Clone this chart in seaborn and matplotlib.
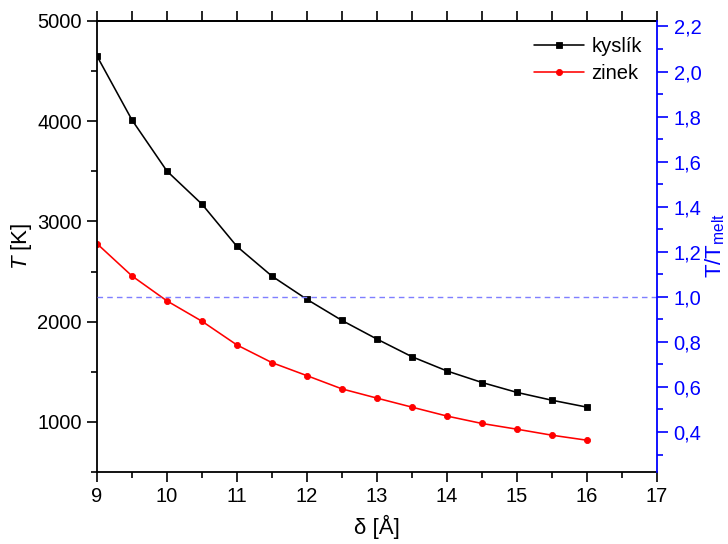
import numpy as np
import pandas as pd
import matplotlib
matplotlib.use("Agg")
import matplotlib.pyplot as plt
from matplotlib.ticker import MultipleLocator, FuncFormatter
import seaborn as sns

# Separation delta [Å] and temperatures [K]
delta = [9.0, 9.5, 10.0, 10.5, 11.0, 11.5, 12.0, 12.5, 13.0, 13.5, 14.0, 14.5, 15.0, 15.5, 16.0]
t_kyslik = [4650, 4012, 3502, 3172, 2750, 2454, 2222, 2012, 1826, 1650, 1508, 1393, 1294, 1216, 1147]
t_zinek = [2778, 2456, 2207, 2004, 1767, 1591, 1461, 1329, 1237, 1147, 1058, 984, 927, 867, 817]
series_names = ["kyslík", "zinek"]
series_colors = ["black", "red"]
series_markers = ["s", "o"]
t_melt = 2248.0

sns.set_theme(style="ticks")
plt.rcParams["font.family"] = ["Liberation Sans", "DejaVu Sans"]
plt.rcParams["mathtext.fontset"] = "custom"
plt.rcParams["mathtext.rm"] = "Liberation Sans"
plt.rcParams["mathtext.it"] = "Liberation Sans:italic"
plt.rcParams["text.color"] = "black"
plt.rcParams["axes.labelcolor"] = "black"
plt.rcParams["xtick.color"] = "black"
plt.rcParams["ytick.color"] = "black"

df = pd.DataFrame({
    "delta": delta * 2,
    "T": t_kyslik + t_zinek,
    "series": [series_names[0]] * len(delta) + [series_names[1]] * len(delta),
})

fig = plt.figure(figsize=(7.28, 5.44), dpi=100)
ax = fig.add_axes([97 / 728, 1 - 472 / 544, 560 / 728, 451 / 544])

sns.lineplot(
    data=df, x="delta", y="T", hue="series", style="series",
    palette=dict(zip(series_names, series_colors)),
    markers=dict(zip(series_names, series_markers)),
    dashes=False, markersize=4.4, linewidth=1.15,
    ax=ax, legend=True,
)
for line in ax.lines:
    line.set_markeredgecolor(line.get_color())
    line.set_markeredgewidth(0.6)

ax.set_xlim(9, 17)
ax.set_ylim(500, 5000)
ax.xaxis.set_major_locator(MultipleLocator(1))
ax.xaxis.set_minor_locator(MultipleLocator(0.5))
ax.yaxis.set_major_locator(MultipleLocator(1000))
ax.yaxis.set_minor_locator(MultipleLocator(500))
ax.yaxis.set_major_formatter(FuncFormatter(lambda v, p: "" if v < 1000 else f"{int(v)}"))

for side in ["left", "bottom", "top"]:
    ax.spines[side].set_linewidth(1.3)
    ax.spines[side].set_color("black")
ax.spines["right"].set_visible(False)

ax.tick_params(axis="both", which="major", direction="out", length=7, width=1.2,
               labelsize=14.5, colors="black", pad=4)
ax.tick_params(axis="both", which="minor", direction="out", length=4, width=1.2)
ax.tick_params(axis="x", top=False, which="both")

# Top axis: ticks only
top = ax.secondary_xaxis("top")
top.xaxis.set_major_locator(MultipleLocator(0.5))
top.tick_params(direction="out", length=7, width=1.2, labeltop=False, colors="black")
top.spines["top"].set_linewidth(1.3)
top.spines["top"].set_color("black")

ax.set_xlabel("δ [Å]", fontsize=16, labelpad=6, color="black")
ax.set_ylabel(r"$T$ [K]", fontsize=16, color="black")
ax.yaxis.set_label_coords(-0.113, 0.5)

leg = ax.legend(loc="upper right", frameon=False, fontsize=14.5, handlelength=2.5,
                handletextpad=0.35, borderaxespad=0.5, labelspacing=0.4,
                bbox_to_anchor=(1.005, 1.005))
for txt in leg.get_texts():
    txt.set_color("black")

# Right axis: reduced temperature T/T_melt
ax2 = ax.twinx()
ax2.set_ylim(500 / t_melt, 5000 / t_melt)
ax2.yaxis.set_major_locator(MultipleLocator(0.2))
ax2.yaxis.set_minor_locator(MultipleLocator(0.1))
ax2.yaxis.set_major_formatter(FuncFormatter(lambda v, p: f"{v:.1f}".replace(".", ",")))
for side in ["left", "bottom", "top"]:
    ax2.spines[side].set_visible(False)
ax2.spines["right"].set_color("blue")
ax2.spines["right"].set_linewidth(1.3)
ax2.tick_params(axis="y", which="major", direction="out", length=8, width=1.2,
                colors="blue", labelsize=14.5, labelcolor="blue", pad=4)
ax2.tick_params(axis="y", which="minor", direction="out", length=4, width=1.2, colors="blue")
ax2.axhline(1.0, color="#7f7fff", linestyle=(0, (4, 3)), linewidth=1.0)
fig.text(715 / 728, 1 - 246 / 544, r"T/T$_{\mathrm{melt}}$", rotation=90,
         ha="center", va="center", fontsize=16, color="blue")

fig.savefig("out.png", dpi=100)
